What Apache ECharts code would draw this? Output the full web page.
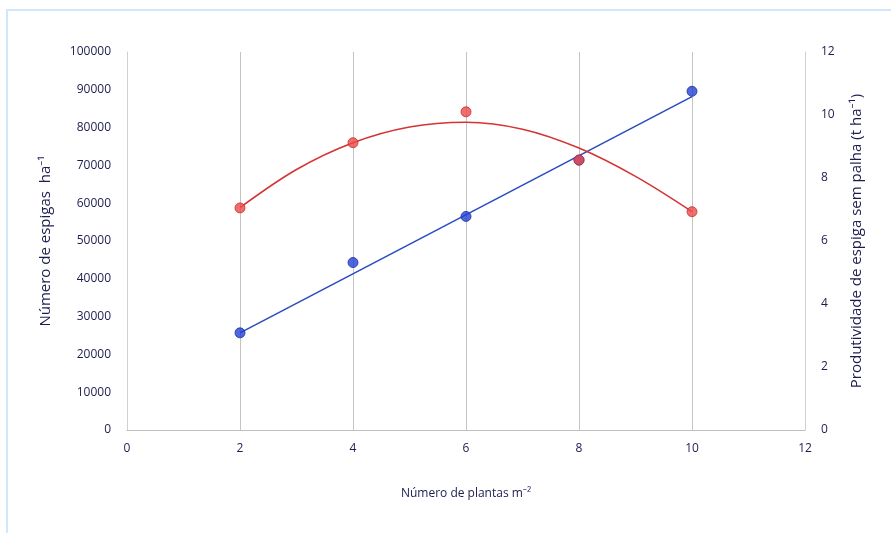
<!DOCTYPE html>
<html>
<head>
<meta charset="utf-8">
<script src="https://cdn.jsdelivr.net/npm/echarts@6/dist/echarts.min.js"></script>
<style>
html,body{margin:0;padding:0;background:#fff;}
#frame{position:absolute;left:6px;top:9px;width:900px;height:540px;border-left:2px solid #d3e7fb;border-top:2px solid #d3e7fb;}
#chart{position:absolute;left:0;top:0;width:891px;height:533px;}
</style>
</head>
<body>
<div id="frame"></div>
<div id="chart"></div>
<script>
const plants = [2, 4, 6, 8, 10];
const ears = [25700, 44300, 56500, 71400, 89600];
const productivity = [7.05, 9.12, 10.1, 8.57, 6.93];
const earsTrendX = [2, 10];
const earsTrendY = [25700, 88200];
const prodTrendX = [2, 3, 4, 5, 6, 7, 8, 9, 10];
const prodTrendY = [7.06, 8.27, 9.12, 9.62, 9.77, 9.55, 8.95, 8.05, 6.93];

const font = 'Open Sans, Noto Sans, sans-serif';
const textColor = '#1c1c4e';

const chart = echarts.init(document.getElementById('chart'), null, {renderer: 'canvas'});
chart.setOption({
  animation: false,
  backgroundColor: 'transparent',
  grid: {left: 127, right: 86, top: 52, bottom: 103},
  xAxis: {
    type: 'value', min: 0, max: 12, interval: 2,
    name: 'Número de plantas m⁻²', nameLocation: 'middle', nameGap: 58,
    nameTextStyle: {fontFamily: font, fontSize: 12, color: textColor},
    axisLine: {show: true, lineStyle: {color: '#bfbfbf', width: 1}},
    axisTick: {show: false},
    axisLabel: {fontFamily: font, fontSize: 12, color: textColor, margin: 13},
    splitLine: {show: true, lineStyle: {color: '#c4c4c4', width: 1}}
  },
  yAxis: [{
    type: 'value', min: 0, max: 100000, interval: 10000, position: 'left',
    name: 'Número de espigas  ha⁻¹', nameLocation: 'middle', nameGap: 74,
    nameTextStyle: {fontFamily: font, fontSize: 15, color: textColor},
    axisLine: {show: true, lineStyle: {color: '#d0d0d0', width: 1}},
    axisTick: {show: false},
    axisLabel: {fontFamily: font, fontSize: 12, color: textColor, margin: 16, formatter: v => String(v)},
    splitLine: {show: false}
  }, {
    type: 'value', min: 0, max: 12, interval: 2, position: 'right',
    name: 'Produtividade de espiga sem palha (t ha⁻¹)', nameLocation: 'middle', nameGap: 44,
    nameTextStyle: {fontFamily: font, fontSize: 15, color: textColor},
    axisLine: {show: true, lineStyle: {color: '#d0d0d0', width: 1}},
    axisTick: {show: false},
    axisLabel: {fontFamily: font, fontSize: 12, color: textColor, margin: 16},
    splitLine: {show: false}
  }],
  series: [{
    type: 'line', yAxisIndex: 0, showSymbol: false, silent: true,
    data: earsTrendX.map((x, i) => [x, earsTrendY[i]]),
    lineStyle: {color: '#2a4cc2', width: 1.6}, z: 2
  }, {
    type: 'line', yAxisIndex: 1, showSymbol: false, smooth: 0.35, silent: true,
    data: prodTrendX.map((x, i) => [x, prodTrendY[i]]),
    lineStyle: {color: '#d63434', width: 1.6}, z: 2
  }, {
    type: 'scatter', yAxisIndex: 0, symbolSize: 10,
    data: plants.map((x, i) => [x, ears[i]]),
    itemStyle: {color: '#2241d6', borderColor: '#1a2f9a', borderWidth: 1}, z: 3
  }, {
    type: 'scatter', yAxisIndex: 1, symbolSize: 10,
    data: plants.map((x, i) => [x, productivity[i]]),
    itemStyle: {color: '#ee4a4a', borderColor: '#c23030', borderWidth: 1}, z: 4
  }]
});
</script>
</body>
</html>
